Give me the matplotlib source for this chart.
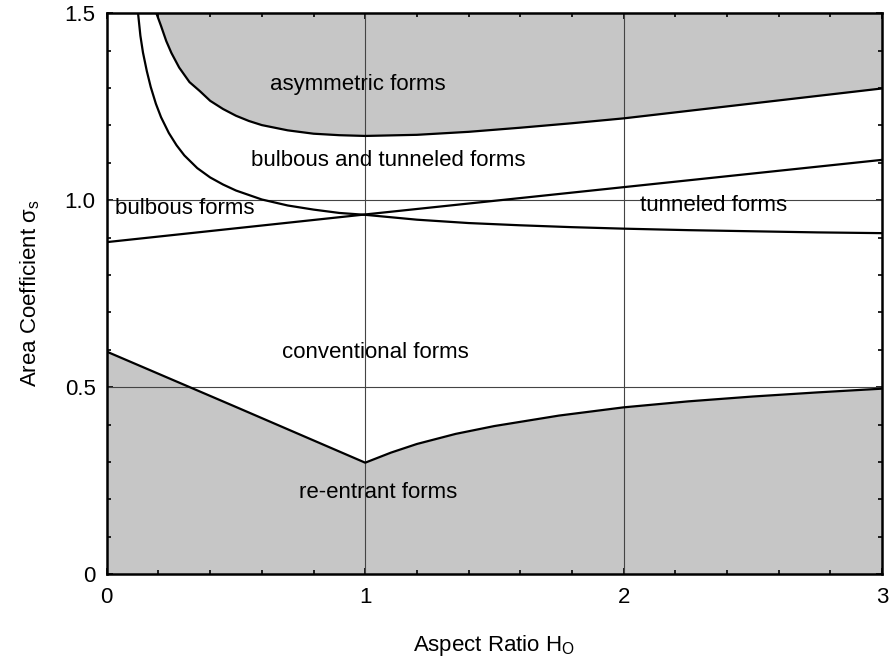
import numpy as np
import matplotlib.pyplot as plt
from matplotlib.ticker import MultipleLocator

plt.rcParams['font.family'] = ['Liberation Sans', 'DejaVu Sans']
plt.rcParams['mathtext.fontset'] = 'custom'
plt.rcParams['mathtext.rm'] = 'Liberation Sans'
plt.rcParams['mathtext.it'] = 'Liberation Sans'

# limit of asymmetric forms
h_asym = [0.192, 0.21, 0.23, 0.25, 0.28, 0.32, 0.36, 0.4, 0.45, 0.5, 0.55, 0.6, 0.7, 0.8, 0.9,
          1.0, 1.2, 1.4, 1.6, 1.8, 2.0, 2.25, 2.5, 2.75, 3.0]
s_asym = [1.5, 1.466, 1.426, 1.394, 1.355, 1.316, 1.292, 1.266, 1.244, 1.226, 1.212, 1.201, 1.187, 1.178, 1.174,
          1.172, 1.175, 1.183, 1.194, 1.206, 1.219, 1.239, 1.259, 1.279, 1.299]

# limit of bulbous forms
h_bulb = [0.121, 0.13, 0.14, 0.155, 0.17, 0.19, 0.21, 0.24, 0.27, 0.3, 0.35, 0.4, 0.45, 0.5, 0.6, 0.7,
          0.8, 0.9, 1.0, 1.2, 1.4, 1.6, 1.8, 2.0, 2.25, 2.5, 2.75, 3.0]
s_bulb = [1.5, 1.44, 1.395, 1.345, 1.303, 1.258, 1.222, 1.18, 1.147, 1.12, 1.086, 1.061, 1.042, 1.026, 1.002, 0.986,
          0.975, 0.966, 0.961, 0.948, 0.939, 0.933, 0.928, 0.924, 0.92, 0.917, 0.914, 0.912]

# limit of tunneled forms
h_tun = [0.0, 1.0, 2.0, 3.0]
s_tun = [0.888, 0.962, 1.035, 1.108]

# limit of re-entrant forms
h_re = [0.0, 0.5, 1.0, 1.1, 1.2, 1.35, 1.5, 1.75, 2.0, 2.25, 2.5, 2.75, 3.0]
s_re = [0.595, 0.447, 0.298, 0.325, 0.348, 0.375, 0.396, 0.424, 0.446, 0.462, 0.475, 0.486, 0.496]

region_labels = ['asymmetric forms', 'bulbous and tunneled forms', 'bulbous forms',
                 'tunneled forms', 'conventional forms', 're-entrant forms']
label_h = [0.97, 1.09, 0.30, 2.35, 1.04, 1.05]
label_s = [1.31, 1.105, 0.977, 0.986, 0.593, 0.217]

gray = '#c6c6c6'

fig = plt.figure(figsize=(8.9, 6.66), dpi=100)
ax = fig.add_axes([0.120, 0.138, 0.871, 0.842])

ax.fill_between(h_asym, s_asym, 1.5, color=gray, linewidth=0, zorder=1)
ax.fill_between(h_re, 0, s_re, color=gray, linewidth=0, zorder=1)

for v in [1, 2]:
    ax.axvline(v, color='#444444', linewidth=0.8, zorder=2)
for v in [0.5, 1.0]:
    ax.axhline(v, color='#444444', linewidth=0.8, zorder=2)

for h, s in [(h_asym, s_asym), (h_bulb, s_bulb), (h_tun, s_tun), (h_re, s_re)]:
    ax.plot(h, s, color='black', linewidth=1.6, zorder=3, solid_joinstyle='round')

for txt, x, y in zip(region_labels, label_h, label_s):
    ax.text(x, y, txt, ha='center', va='center', fontsize=16, zorder=4)

ax.set_xlim(0, 3)
ax.set_ylim(0, 1.5)
ax.set_xticks([0, 1, 2, 3])
ax.set_xticklabels(['0', '1', '2', '3'])
ax.set_yticks([0, 0.5, 1.0, 1.5])
ax.set_yticklabels(['0', '0.5', '1.0', '1.5'])
ax.xaxis.set_minor_locator(MultipleLocator(0.2))
ax.yaxis.set_minor_locator(MultipleLocator(0.1))
ax.tick_params(which='both', direction='in', top=True, right=True, width=1.2, labelsize=16)
ax.tick_params(which='major', length=4)
ax.tick_params(which='minor', length=3)
ax.tick_params(axis='x', pad=9)
ax.tick_params(axis='y', pad=8)
for sp in ax.spines.values():
    sp.set_linewidth(1.8)

ax.set_xlabel(r'Aspect Ratio H$_\mathrm{O}$', fontsize=16, labelpad=18)
ax.set_ylabel(r'Area Coefficient $\sigma_\mathrm{s}$', fontsize=16, labelpad=16)

fig.savefig('out.png', dpi=100)
